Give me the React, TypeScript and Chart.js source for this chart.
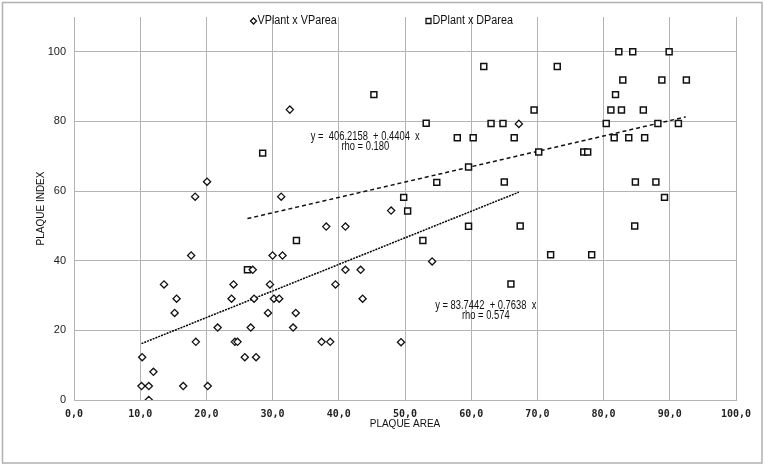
import { useEffect, useRef } from "react";
import { Chart, registerables } from "chart.js";

Chart.register(...registerables);

// VPlant x VParea (diamonds)
const vPlantArea = [10.3, 10.2, 11.3, 11.3, 12.0, 13.6, 15.2, 15.5, 16.5, 17.7, 18.3, 18.4, 20.1, 20.2, 21.7, 23.8, 24.1, 24.3, 24.7, 25.8, 26.7, 27.0, 27.2, 27.5, 29.3, 29.6, 30.0, 30.2, 31.0, 31.3, 31.5, 32.6, 33.1, 33.5, 37.4, 38.1, 38.7, 39.5, 41.0, 41.0, 43.3, 43.6, 47.9, 49.4, 54.1, 67.2];
const vPlantIndex = [12.3, 4.0, 4.0, 0.0, 8.1, 33.2, 25.0, 29.1, 4.0, 41.5, 58.4, 16.7, 62.7, 4.0, 20.8, 29.1, 33.2, 16.7, 16.7, 12.3, 20.8, 37.4, 29.1, 12.3, 25.0, 33.2, 41.5, 29.1, 29.1, 58.4, 41.5, 83.4, 20.8, 25.0, 16.7, 49.8, 16.7, 33.2, 49.8, 37.4, 37.4, 29.1, 54.4, 16.6, 39.8, 79.3];

// DPlant x DParea (squares)
const dPlantArea = [26.2, 28.5, 33.6, 45.3, 49.8, 50.4, 52.7, 53.2, 54.8, 57.9, 59.6, 59.6, 60.3, 61.9, 63.0, 64.8, 65.0, 66.0, 66.5, 67.4, 69.5, 70.2, 72.0, 73.0, 77.0, 77.6, 78.2, 80.4, 81.1, 81.6, 81.8, 82.3, 82.7, 82.9, 83.8, 84.4, 84.7, 84.8, 86.0, 86.2, 87.9, 88.2, 88.8, 89.2, 89.9, 91.3, 92.5];
const dPlantIndex = [37.4, 70.9, 45.8, 87.7, 58.2, 54.3, 45.8, 79.5, 62.5, 75.3, 66.9, 49.9, 75.3, 95.8, 79.4, 79.4, 62.6, 33.3, 75.3, 50.0, 83.3, 71.2, 41.7, 95.8, 71.2, 71.2, 41.7, 79.4, 83.3, 75.3, 87.7, 100, 83.3, 91.9, 75.3, 100, 50.0, 62.6, 83.3, 75.3, 62.6, 79.4, 91.9, 58.2, 100, 79.4, 91.9];

// Regression line end points
const vTrendArea = [10.2, 67.2];
const vTrendIndex = [16.2, 59.7];
const dTrendArea = [26.2, 92.4];
const dTrendIndex = [52.1, 81.3];

// Axis ticks
const xTickValues = [0, 10, 20, 30, 40, 50, 60, 70, 80, 90, 100];
const yTickValues = [0, 20, 40, 60, 80, 100];

const legendLabels = ["VPlant x VParea", "DPlant x DParea"];
const dEquation = ["y =  406.2158  + 0.4404  x", "rho = 0.180"];
const dEquationAt = [44.0, 75.8];
const vEquation = ["y = 83.7442  + 0.7638  x", "rho = 0.574"];
const vEquationAt = [62.2, 27.2];

const SANS = "'Liberation Sans', Arial, sans-serif";

function pts(xs: number[], ys: number[]) {
  return xs.map((x, i) => ({ x, y: ys[i] }));
}

export default function App() {
  const ref = useRef<HTMLCanvasElement | null>(null);

  useEffect(() => {
    const canvas = ref.current;
    if (!canvas) return;

    const framePlugin = {
      id: "frame",
      beforeDraw(chart: any) {
        const c = chart.ctx;
        c.save();
        c.fillStyle = "#ffffff";
        c.fillRect(0, 0, chart.width, chart.height);
        c.strokeStyle = "#b0b0b0";
        c.lineWidth = 1.5;
        c.strokeRect(2.5, 2.5, chart.width - 5.5, chart.height - 4.5);
        c.restore();
      },
    };

    const textPlugin = {
      id: "texts",
      afterDraw(chart: any) {
        const c = chart.ctx;
        const xs = chart.scales.x;
        const ys = chart.scales.y;
        c.save();
        c.fillStyle = "#111";
        c.font = `12.5px ${SANS}`;
        c.textAlign = "center";
        c.textBaseline = "middle";
        const drawEq = (lines: string[], at: number[]) => {
          const px = xs.getPixelForValue(at[0]);
          const py = ys.getPixelForValue(at[1]);
          lines.forEach((l, i) => {
            const w = c.measureText(l).width;
            c.fillText(l, px, py + i * 10.5, w * 0.75);
          });
        };
        drawEq(dEquation, dEquationAt);
        drawEq(vEquation, vEquationAt);

        // legend
        c.font = `12px ${SANS}`;
        const ly = 21;
        const items = [
          { x: 253.5, label: legendLabels[0], style: "diamond" },
          { x: 428.5, label: legendLabels[1], style: "square" },
        ];
        c.textAlign = "left";
        c.strokeStyle = "#111";
        c.lineWidth = 1.3;
        items.forEach((it) => {
          c.beginPath();
          if (it.style === "diamond") {
            c.moveTo(it.x, ly - 3);
            c.lineTo(it.x + 3, ly);
            c.lineTo(it.x, ly + 3);
            c.lineTo(it.x - 3, ly);
            c.closePath();
          } else {
            c.rect(it.x - 2.5, ly - 2.5, 5, 5);
          }
          c.stroke();
          const w = c.measureText(it.label).width;
          c.fillText(it.label, it.x + 4, ly, w * 0.9);
        });
        c.restore();
      },
    };

    const chart = new Chart(canvas, {
      type: "scatter",
      data: {
        datasets: [
          {
            label: legendLabels[0],
            data: pts(vPlantArea, vPlantIndex),
            pointStyle: "rectRot",
            pointRadius: 3.6,
            pointBorderColor: "#111",
            pointBackgroundColor: "#fff",
            pointBorderWidth: 1.3,
            showLine: false,
          },
          {
            label: legendLabels[1],
            data: pts(dPlantArea, dPlantIndex),
            pointStyle: "rect",
            pointRadius: 4.2,
            pointBorderColor: "#111",
            pointBackgroundColor: "#fff",
            pointBorderWidth: 1.5,
            showLine: false,
          },
          {
            label: "trendV",
            data: pts(vTrendArea, vTrendIndex),
            showLine: true,
            pointRadius: 0,
            borderColor: "#000",
            borderWidth: 1.5,
            borderDash: [2, 1],
          },
          {
            label: "trendD",
            data: pts(dTrendArea, dTrendIndex),
            showLine: true,
            pointRadius: 0,
            borderColor: "#111",
            borderWidth: 1.5,
            borderDash: [4, 3],
          },
        ],
      },
      options: {
        responsive: false,
        animation: false,
        layout: { padding: { top: 17, right: 29, bottom: 0, left: 0 } },
        plugins: {
          legend: { display: false },
          tooltip: { enabled: false },
        },
        scales: {
          x: {
            type: "linear",
            min: 0,
            max: 100,
            afterFit: (s: any) => {
              s.height = 65;
            },
            afterBuildTicks: (s: any) => {
              s.ticks = xTickValues.map((v) => ({ value: v }));
            },
            grid: { color: "#b4b4b4", lineWidth: 1, drawTicks: false },
            border: { color: "#b4b4b4", width: 1 },
            ticks: {
              padding: 8,
              color: "#222",
              font: { family: "'DejaVu Sans Mono', monospace", size: 10, weight: "bold" },
              callback: (v: any) => Number(v).toFixed(1).replace(".", ","),
            },
            title: {
              display: true,
              text: "PLAQUE AREA",
              color: "#111",
              font: { family: SANS, size: 10 },
              padding: { top: 0, bottom: 35 },
            },
          },
          y: {
            type: "linear",
            min: 0,
            max: 110,
            afterFit: (s: any) => {
              s.width = 74;
            },
            afterBuildTicks: (s: any) => {
              s.ticks = yTickValues.map((v) => ({ value: v }));
            },
            grid: { color: "#b4b4b4", lineWidth: 1, drawTicks: false },
            border: { color: "#b4b4b4", width: 1 },
            ticks: {
              padding: 8,
              color: "#222",
              font: { family: SANS, size: 11 },
            },
            title: {
              display: true,
              text: "PLAQUE INDEX",
              color: "#111",
              font: { family: SANS, size: 10 },
              padding: { top: 35, bottom: 0 },
            },
          },
        },
      },
      plugins: [framePlugin, textPlugin],
    });

    return () => chart.destroy();
  }, []);

  return (
    <div style={{ position: "fixed", left: 0, top: 0, width: 765, height: 465, background: "#fff" }}>
      <canvas ref={ref} width={765} height={465} style={{ width: 765, height: 465, display: "block" }} />
    </div>
  );
}
